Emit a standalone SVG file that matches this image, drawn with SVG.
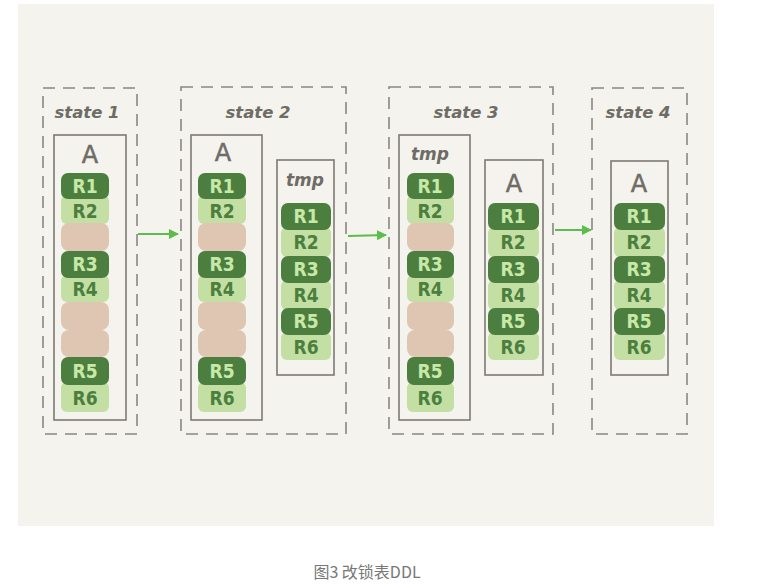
<svg xmlns="http://www.w3.org/2000/svg" width="760" height="587" viewBox="0 0 760 587">
<defs>
<style>
.bg{fill:#f4f3ee}
.dash{fill:none;stroke:#8a8782;stroke-width:1.6;stroke-dasharray:12 8}
.box{fill:none;stroke:#7d7973;stroke-width:1.6}
.st{font-family:"DejaVu Sans",sans-serif;font-style:italic;font-weight:bold;font-size:16.5px;fill:#6f6b65;text-anchor:middle}
.tn{font-family:"DejaVu Sans",sans-serif;font-size:24px;fill:#6f6b65;text-anchor:middle;stroke:#6f6b65;stroke-width:0.5}
.tm{font-family:"DejaVu Sans",sans-serif;font-style:italic;font-weight:bold;font-size:17px;fill:#6f6b65;text-anchor:middle}
.d{fill:#4c7f3f}
.l{fill:#c3dfa3}
.p{fill:#dfc6b2}
.dt{font-family:"DejaVu Sans Condensed","DejaVu Sans",sans-serif;font-weight:bold;font-size:19px;fill:#c8e8a8;text-anchor:middle}
.lt{font-family:"DejaVu Sans Condensed","DejaVu Sans",sans-serif;font-weight:bold;font-size:19px;fill:#4c7f3f;text-anchor:middle}
.arr{stroke:#5cbd4a;stroke-width:2;fill:none;marker-end:url(#ah)}
.cap{font-family:"Noto Sans CJK SC","Noto Sans",sans-serif;font-size:16px;fill:#777;text-anchor:middle}
</style>
<marker id="ah" viewBox="0 0 10 10" refX="9" refY="5" markerWidth="5" markerHeight="5" orient="auto" markerUnits="strokeWidth">
<path d="M0,0 L10,5 L0,10 z" fill="#5cbd4a"/>
</marker>
</defs>
<rect class="bg" x="18" y="4" width="696" height="522"/>

<g id="state1">
<rect class="dash" x="43" y="88" width="94" height="346"/>
<text class="st" x="87" y="118">state 1</text>
<g id="s1-A">
<rect class="box" x="54" y="135" width="72" height="285"/>
<text class="tn" x="90" y="163">A</text>
<rect class="l" x="61" y="195" width="48" height="29" rx="6"/>
<rect class="d" x="61" y="173" width="48" height="26" rx="7"/>
<text class="dt" x="85" y="193">R1</text>
<text class="lt" x="85" y="218">R2</text>
<rect class="p" x="61" y="223" width="48" height="28" rx="8"/>
<rect class="l" x="61" y="275" width="48" height="27" rx="6"/>
<rect class="d" x="61" y="251" width="48" height="27" rx="7"/>
<text class="dt" x="85" y="271">R3</text>
<text class="lt" x="85" y="296">R4</text>
<rect class="p" x="61" y="302" width="48" height="28" rx="8"/>
<rect class="p" x="61" y="330" width="48" height="27" rx="8"/>
<rect class="l" x="61" y="382" width="48" height="30" rx="6"/>
<rect class="d" x="61" y="357" width="48" height="28" rx="7"/>
<text class="dt" x="85" y="378">R5</text>
<text class="lt" x="85" y="405">R6</text>
</g>
</g>

<g id="state2">
<rect class="dash" x="181" y="87" width="165" height="347"/>
<text class="st" x="258" y="118">state 2</text>
<g id="s2-A">
<rect class="box" x="191" y="135" width="71" height="285"/>
<text class="tn" x="223" y="161">A</text>
<rect class="l" x="198" y="195" width="48" height="29" rx="6"/>
<rect class="d" x="198" y="173" width="48" height="26" rx="7"/>
<text class="dt" x="222" y="193">R1</text>
<text class="lt" x="222" y="218">R2</text>
<rect class="p" x="198" y="223" width="48" height="28" rx="8"/>
<rect class="l" x="198" y="275" width="48" height="27" rx="6"/>
<rect class="d" x="198" y="251" width="48" height="27" rx="7"/>
<text class="dt" x="222" y="271">R3</text>
<text class="lt" x="222" y="296">R4</text>
<rect class="p" x="198" y="302" width="48" height="28" rx="8"/>
<rect class="p" x="198" y="330" width="48" height="27" rx="8"/>
<rect class="l" x="198" y="382" width="48" height="30" rx="6"/>
<rect class="d" x="198" y="357" width="48" height="28" rx="7"/>
<text class="dt" x="222" y="378">R5</text>
<text class="lt" x="222" y="405">R6</text>
</g>
<g id="s2-tmp">
<rect class="box" x="277" y="160" width="57" height="215"/>
<text class="tm" x="305" y="186">tmp</text>
<rect class="l" x="281" y="227" width="50" height="30" rx="6"/>
<rect class="d" x="281" y="203" width="50" height="27" rx="7"/>
<text class="dt" x="306" y="223">R1</text>
<text class="lt" x="306" y="249">R2</text>
<rect class="l" x="281" y="280" width="50" height="30" rx="6"/>
<rect class="d" x="281" y="256" width="50" height="27" rx="7"/>
<text class="dt" x="306" y="276">R3</text>
<text class="lt" x="306" y="302">R4</text>
<rect class="l" x="281" y="332" width="50" height="28" rx="6"/>
<rect class="d" x="281" y="308" width="50" height="27" rx="7"/>
<text class="dt" x="306" y="328">R5</text>
<text class="lt" x="306" y="354">R6</text>
</g>
</g>

<g id="state3">
<rect class="dash" x="389" y="87" width="164" height="347"/>
<text class="st" x="466" y="118">state 3</text>
<g id="s3-tmp">
<rect class="box" x="399" y="135" width="71" height="285"/>
<text class="tm" x="430" y="160">tmp</text>
<rect class="l" x="407" y="195" width="47" height="29" rx="6"/>
<rect class="d" x="407" y="173" width="47" height="26" rx="7"/>
<text class="dt" x="430" y="193">R1</text>
<text class="lt" x="430" y="218">R2</text>
<rect class="p" x="407" y="223" width="47" height="28" rx="8"/>
<rect class="l" x="407" y="275" width="47" height="27" rx="6"/>
<rect class="d" x="407" y="251" width="47" height="27" rx="7"/>
<text class="dt" x="430" y="271">R3</text>
<text class="lt" x="430" y="296">R4</text>
<rect class="p" x="407" y="302" width="47" height="28" rx="8"/>
<rect class="p" x="407" y="330" width="47" height="27" rx="8"/>
<rect class="l" x="407" y="382" width="47" height="30" rx="6"/>
<rect class="d" x="407" y="357" width="47" height="28" rx="7"/>
<text class="dt" x="430" y="378">R5</text>
<text class="lt" x="430" y="405">R6</text>
</g>
<g id="s3-A">
<rect class="box" x="485" y="160" width="58" height="215"/>
<text class="tn" x="514" y="192">A</text>
<rect class="l" x="488" y="227" width="51" height="30" rx="6"/>
<rect class="d" x="488" y="203" width="51" height="27" rx="7"/>
<text class="dt" x="513" y="223">R1</text>
<text class="lt" x="513" y="249">R2</text>
<rect class="l" x="488" y="280" width="51" height="30" rx="6"/>
<rect class="d" x="488" y="256" width="51" height="27" rx="7"/>
<text class="dt" x="513" y="276">R3</text>
<text class="lt" x="513" y="302">R4</text>
<rect class="l" x="488" y="332" width="51" height="28" rx="6"/>
<rect class="d" x="488" y="308" width="51" height="27" rx="7"/>
<text class="dt" x="513" y="328">R5</text>
<text class="lt" x="513" y="354">R6</text>
</g>
</g>

<g id="state4">
<rect class="dash" x="592" y="88" width="95" height="346"/>
<text class="st" x="638" y="118">state 4</text>
<g id="s4-A">
<rect class="box" x="611" y="161" width="57" height="214"/>
<text class="tn" x="639" y="192">A</text>
<rect class="l" x="614" y="227" width="51" height="30" rx="6"/>
<rect class="d" x="614" y="203" width="51" height="27" rx="7"/>
<text class="dt" x="639" y="223">R1</text>
<text class="lt" x="639" y="249">R2</text>
<rect class="l" x="614" y="280" width="51" height="30" rx="6"/>
<rect class="d" x="614" y="256" width="51" height="27" rx="7"/>
<text class="dt" x="639" y="276">R3</text>
<text class="lt" x="639" y="302">R4</text>
<rect class="l" x="614" y="332" width="51" height="28" rx="6"/>
<rect class="d" x="614" y="308" width="51" height="27" rx="7"/>
<text class="dt" x="639" y="328">R5</text>
<text class="lt" x="639" y="354">R6</text>
</g>
</g>

<g id="connectors">
<line class="arr" x1="138" y1="234" x2="178" y2="234"/>
<line class="arr" x1="348" y1="236" x2="386" y2="235"/>
<line class="arr" x1="555" y1="230" x2="591" y2="230"/>
</g>

<text class="cap" x="367" y="578">图3 改锁表DDL</text>
</svg>
